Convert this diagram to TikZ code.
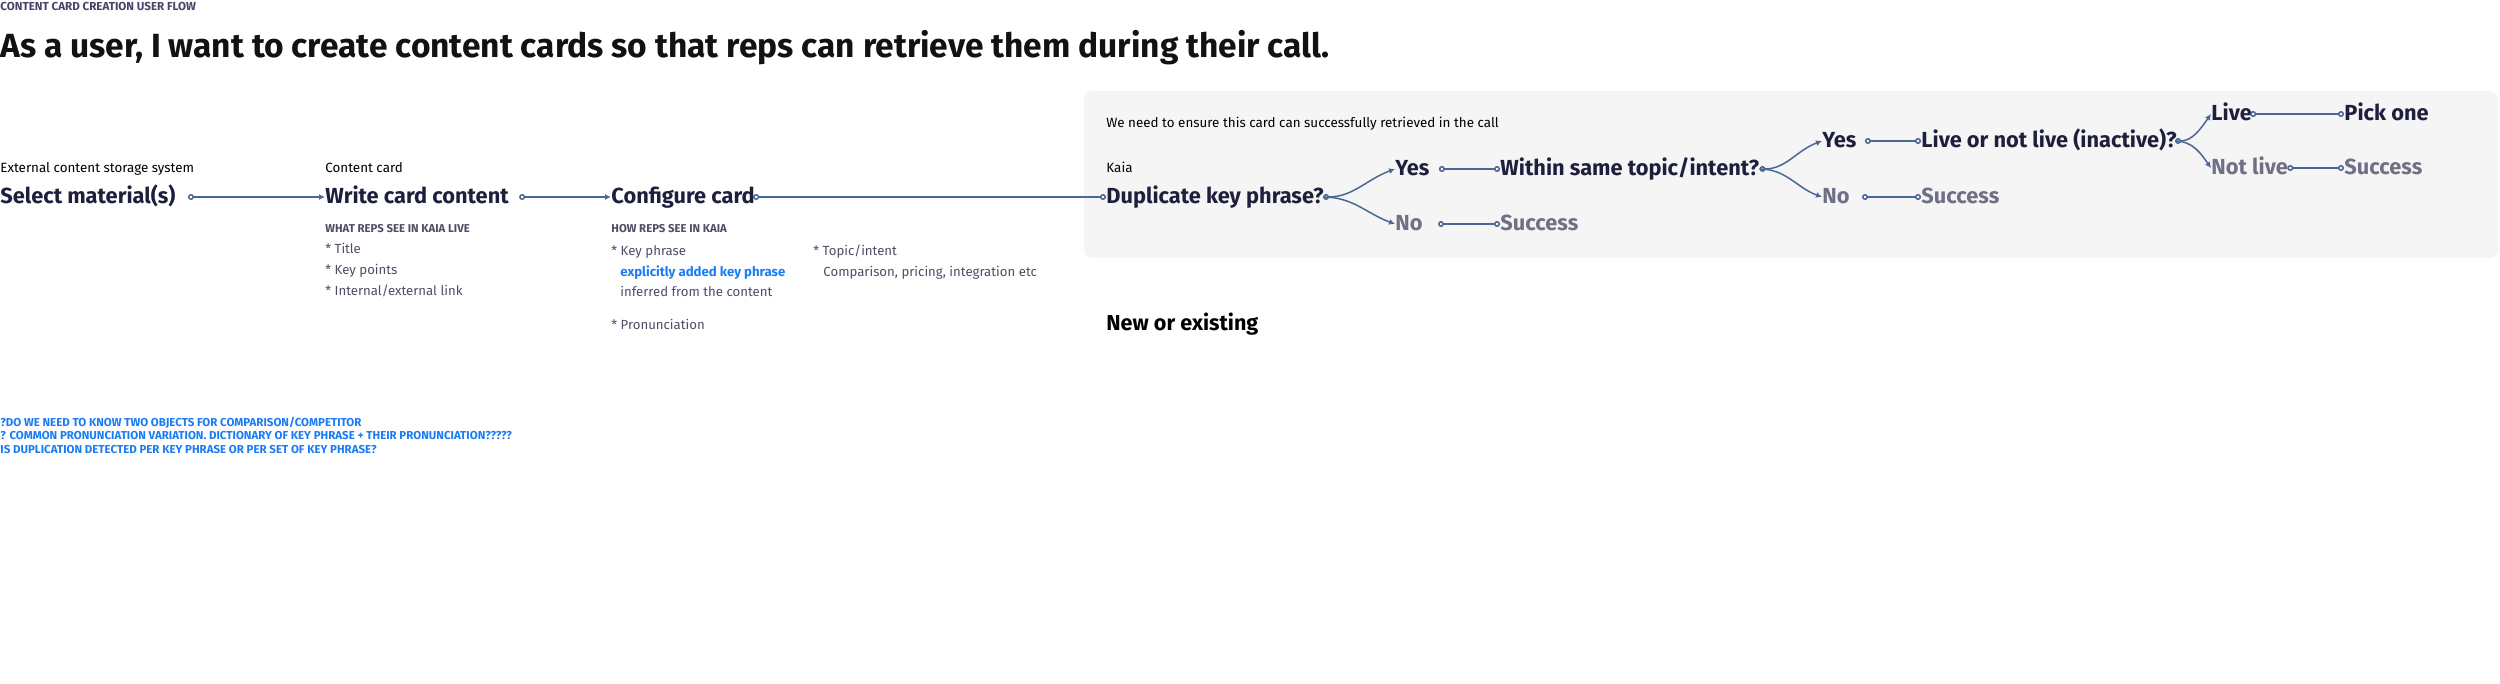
\documentclass[tikz,border=0pt]{standalone}
\usepackage{fontspec}
\setmainfont{Fira Sans}
\usetikzlibrary{arrows.meta,positioning,calc}
\definecolor{Ink}{HTML}{1E1F3D}
\definecolor{Muted}{HTML}{6F6F85}
\definecolor{Slate}{HTML}{4D4D66}
\definecolor{Head}{HTML}{45456A}
\definecolor{Link}{HTML}{1A7CF5}
\definecolor{Wire}{HTML}{4B6894}
\definecolor{Panel}{HTML}{F5F5F5}

\tikzset{
	lbl/.style={inner sep=0pt, anchor=base west},
	caption/.style={lbl, font=\fontsize{6.7}{8}\selectfont, text=black},
	stepname/.style={inner sep=0pt, anchor=west, text height=9pt, text depth=2pt,
		font=\fontsize{10.9}{12}\selectfont\bfseries, text=Ink},
	mutedstep/.style={stepname, text=Muted},
	subhead/.style={lbl, font=\fontsize{5.7}{7}\selectfont\bfseries, text=Slate},
	listitem/.style={lbl, font=\fontsize{6.6}{8}\selectfont, text=Slate},
	question/.style={lbl, font=\fontsize{5.75}{7}\selectfont\bfseries, text=Link},
	wire/.style={draw=Wire, line width=0.75pt},
	go/.style={wire, {Circle[open,length=3pt]}-{Latex[length=3pt,width=3pt]}},
	joint/.style={wire, {Circle[open,length=3pt]}-{Circle[open,length=3pt]}},
	branch/.style={wire, -{Latex[length=3pt,width=3pt]}}
}

\begin{document}
\begin{tikzpicture}[x=0.5pt, y=-0.5pt]
	\useasboundingbox (0,0) rectangle (2500,684);

	% panel behind the retrieval check
	\fill[Panel, rounded corners=4pt] (1084,91) rectangle (2498,258);

	% headings
	\node[lbl, font=\fontsize{5.8}{7}\selectfont\bfseries, text=Head] (flowtag) at (0,11) {CONTENT CARD CREATION USER FLOW};
	\node[lbl, font=\fontsize{16.75}{19}\selectfont\bfseries, text=black!93] (story) at (0,58)
		{As a user, I want to create content cards so that reps can retrieve them during their call.};

	% main row
	\node[caption] (srccap) at (0,173) {External content storage system};
	\node[stepname] (select) at (0,197) {Select material(s)};
	\node[caption] (cardcap) at (325,173) {Content card};
	\node[stepname] (write) at (325,197) {Write card content};
	\node[stepname] (config) at (611,197) {Configure card};

	% what reps see
	\node[subhead] (seelive) at (325,233) {WHAT REPS SEE IN KAIA LIVE};
	\node[listitem] (title) at (325,254) {* Title};
	\node[listitem] (points) at (325,275) {* Key points};
	\node[listitem] (extlink) at (325,296) {* Internal/external link};

	\node[subhead] (seekaia) at (611,233) {HOW REPS SEE IN KAIA};
	\node[listitem] (phrase) at (611,256) {* Key phrase};
	\node[listitem, text=Link, font=\fontsize{6.6}{8}\selectfont\bfseries] (explicit) at (620,277) {explicitly added key phrase};
	\node[listitem] (inferred) at (620,297) {inferred from the content};
	\node[listitem] (pronounce) at (611,329) {* Pronunciation};
	\node[listitem] (topic) at (813,256) {* Topic/intent};
	\node[listitem] (examples) at (823,277) {Comparison, pricing, integration etc};

	% retrieval check
	\node[caption] (ensure) at (1106,128) {We need to ensure this card can successfully retrieved in the call};
	\node[caption] (kaiacap) at (1106,173) {Kaia};
	\node[stepname] (dup) at (1106,197) {Duplicate key phrase?};
	\node[stepname] (yesa) at (1395,169) {Yes};
	\node[mutedstep] (noa) at (1395,224) {No};
	\node[stepname] (topicq) at (1500,169) {Within same topic/intent?};
	\node[mutedstep] (succa) at (1500,224) {Success};
	\node[stepname] (yesb) at (1822,141) {Yes};
	\node[mutedstep] (nob) at (1822,197) {No};
	\node[stepname] (liveq) at (1921,141) {Live or not live (inactive)?};
	\node[mutedstep] (succb) at (1921,197) {Success};
	\node[stepname] (live) at (2211,114) {Live};
	\node[mutedstep] (notlive) at (2211,168) {Not live};
	\node[stepname] (pick) at (2344,114) {Pick one};
	\node[mutedstep] (succc) at (2344,168) {Success};

	\node[lbl, font=\fontsize{10.8}{12}\selectfont\bfseries, text=black] (neworold) at (1106,330) {New or existing};

	% open questions
	\node[question] (qa) at (0,426) {?DO WE NEED TO KNOW TWO OBJECTS FOR COMPARISON/COMPETITOR};
	\node[question] (qb) at (0,439) {? COMMON PRONUNCIATION VARIATION. DICTIONARY OF KEY PHRASE + THEIR PRONUNCIATION?????};
	\node[question] (qc) at (0,453) {IS DUPLICATION DETECTED PER KEY PHRASE OR PER SET OF KEY PHRASE?};

	% connectors
	\draw[go] ([xshift=6pt]select.east) -- (write.west);
	\draw[go] ([xshift=5pt]write.east) -- (config.west);
	\draw[joint] ([xshift=-1pt]config.east) -- (dup.west);
	\draw[branch, {Circle[open,length=3pt]}-{Latex[length=3pt,width=3pt]}] ([xshift=-0.5pt]dup.east) to[out=0, in=200] (yesa.west);
	\draw[branch] ([xshift=-0.5pt]dup.east) to[out=0, in=160] (noa.west);
	\draw[joint] ([xshift=4.5pt]yesa.east) -- (topicq.west);
	\draw[joint] ([xshift=7.5pt]noa.east) -- (succa.west);
	\draw[branch, {Circle[open,length=3pt]}-{Latex[length=3pt,width=3pt]}] (topicq.east) to[out=0, in=200] (yesb.west);
	\draw[branch] (topicq.east) to[out=0, in=160] (nob.west);
	\draw[joint] ([xshift=4pt]yesb.east) -- (liveq.west);
	\draw[joint] ([xshift=6pt]nob.east) -- (succb.west);
	\draw[branch, {Circle[open,length=3pt]}-{Latex[length=3pt,width=3pt]}] ([xshift=-1pt]liveq.east) to[out=0, in=235] (live.west);
	\draw[branch] ([xshift=-1pt]liveq.east) to[out=0, in=125] (notlive.west);
	\draw[joint] ([xshift=-1pt]live.east) -- (pick.west);
	\draw[joint] ([xshift=-0.5pt]notlive.east) -- (succc.west);
\end{tikzpicture}
\end{document}
